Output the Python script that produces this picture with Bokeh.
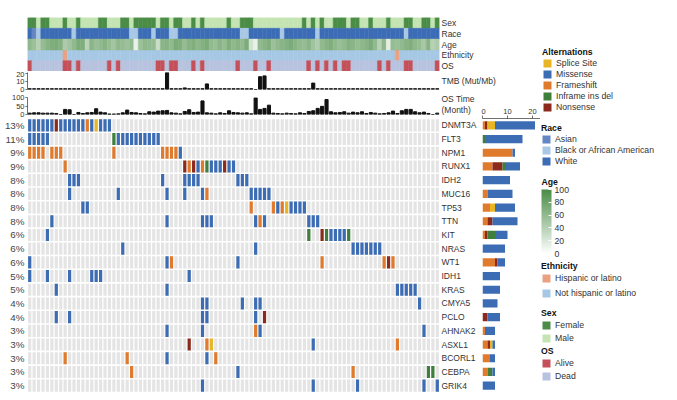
import numpy as np
from bokeh.plotting import figure
from bokeh.layouts import row, column
from bokeh.models import (ColumnDataSource, Range1d, FactorRange, FixedTicker, LinearAxis,
                          Legend, LegendItem, ColorBar, LinearColorMapper, Label)
from bokeh.transform import factor_cmap
from bokeh.embed import file_html
from bokeh.resources import INLINE

FONT = "Liberation Sans"
TXT = "#333333"

# ------------------------------------------------------------------ data
N_SAMPLES = 93
GENES = ["DNMT3A", "FLT3", "NPM1", "RUNX1", "IDH2", "MUC16", "TP53", "TTN", "KIT", "NRAS",
         "WT1", "IDH1", "KRAS", "CMYA5", "PCLO", "AHNAK2", "ASXL1", "BCORL1", "CEBPA", "GRIK4"]
PERCENT = ["13%", "11%", "9%", "9%", "8%", "8%", "8%", "8%", "6%", "6%",
           "6%", "5%", "5%", "4%", "4%", "3%", "3%", "3%", "3%", "3%"]
TRACKS = ["Sex", "Race", "Age", "Ethnicity", "OS"]

# sample annotations (sample index lists)
FEMALE = [0, 1, 3, 4, 8, 11, 16, 17, 21, 22, 24, 25, 26, 27, 28, 30, 31, 33, 34, 37, 39, 45,
          48, 49, 50, 62, 64, 66, 69, 70, 71, 73, 74, 77, 81, 85, 86, 89, 90, 92]
ASIAN = [1]
BLACK = [2, 10, 23, 24, 28, 32, 33, 48, 49, 57, 65, 85]
HISPANIC = [8, 83]
ALIVE = [0, 8, 9, 11, 18, 20, 29, 30, 32, 33, 37, 39, 47, 51, 54, 63, 65, 67, 69, 71, 72,
         79, 81, 85, 86, 92]
AGE = [62, 55, 40, 58, 66, 70, 72, 68, 45, 52,
       60, 72, 70, 38, 64, 56, 60, 66, 58, 50,
       62, 58, 54, 60, 12, 55, 62, 60, 58, 30,
       64, 66, 60, 72, 70, 58, 66, 70, 62, 68,
       72, 60, 56, 64, 58, 70, 62, 66, 60, 72,
       25, 12, 60, 66, 70, 55, 60, 64, 68, 72,
       66, 60, 58, 64, 52, 44, 60, 66, 70, 62,
       56, 60, 68, 64, 58, 62, 66, 72, 60, 40,
       62, 15, 58, 56, 60, 66, 70, 62, 58, 48, 66, 40, 45]
TMB = [1, 1, 1, 1, 1, 1, 1, 1, 1, 1,
       1, 1, 1, 1, 1, 1, 1, 1, 1, 1,
       1, 1, 1, 1, 1, 1, 1, 1, 1, 1,
       1, 22, 1, 1, 1, 2, 1, 1, 1, 1,
       7, 1, 1, 1, 1, 1, 1, 1, 1, 1,
       1, 0, 16, 17, 1, 1, 1, 1, 1, 1,
       1, 1, 1, 1, 8, 1, 1, 1, 1, 1,
       1, 1, 1, 1, 1, 1, 1, 1, 1, 1,
       1, 1, 1, 1, 1, 1, 1, 1, 1, 1, 1, 1, 1]
OS_TIME = [8, 10, 10, 8, 8, 8, 6, 0, 30, 28,
           0, 12, 6, 10, 12, 34, 14, 10, 3, 3,
           4, 10, 26, 12, 10, 6, 4, 16, 14, 20,
           22, 24, 10, 8, 4, 18, 28, 12, 14, 80,
           10, 8, 4, 10, 6, 22, 12, 10, 8, 10,
           4, 98, 30, 36, 55, 8, 6, 4, 8, 6,
           4, 10, 6, 18, 22, 36, 48, 88, 16, 10,
           12, 16, 8, 14, 10, 16, 6, 12, 8, 4,
           6, 10, 20, 6, 22, 30, 30, 16, 10, 14, 6, 0, 8]

# mutations per gene: type -> sample indices
# S = Splice Site, M = Missense, F = Frameshift, I = Inframe ins del, N = Nonsense
DNMT3A = {"M": [0, 1, 2, 3, 4, 5, 7, 8, 9, 10, 11, 12, 14, 16, 17, 18], "N": [6], "F": [13], "S": [15]}
FLT3 = {"M": [0, 1, 2, 3, 4, 20, 21, 22, 23, 24, 25, 26, 27, 28, 29], "I": [19]}
NPM1 = {"F": [0, 1, 2, 3, 5, 6, 7, 19, 30, 31, 32, 33], "M": [34]}
RUNX1 = {"F": [8, 36, 39], "N": [35, 37, 44], "M": [38, 41, 42, 43, 45, 46], "I": [40]}
IDH2 = {"M": [9, 10, 11, 30, 35, 36, 37, 38, 47, 48, 49]}
MUC16 = {"M": [9, 20, 31, 35, 39, 50, 51, 52, 53, 54], "F": [40]}
TP53 = {"M": [12, 13, 56, 59, 60, 61, 62], "F": [50, 55, 57], "S": [58]}
TTN = {"M": [5, 31, 39, 40, 41, 51, 53, 63, 64, 65], "F": [52]}
KIT = {"M": [4, 68, 69, 70, 71], "I": [63, 67, 72], "N": [66]}
NRAS = {"M": [21, 51, 73, 74, 75, 76, 77, 78, 79]}
WT1 = {"M": [0, 31, 47], "F": [32, 66, 80, 82], "N": [81]}
IDH1 = {"M": [0, 4, 9, 14, 15, 16, 36]}
KRAS = {"M": [6, 31, 83, 84, 85, 86, 87]}
CMYA5 = {"M": [39, 40, 48, 51, 52, 88]}
PCLO = {"M": [6, 9, 39, 40, 51], "N": [53]}
AHNAK2 = {"M": [31, 39, 52, 89], "F": [51]}
ASXL1 = {"N": [36], "F": [40, 83], "S": [41], "M": [64]}
BCORL1 = {"F": [8, 22, 42], "M": [31, 40]}
CEBPA = {"F": [23, 73], "M": [47], "I": [90, 91]}
GRIK4 = {"M": [39, 64, 74, 89, 92]}
GENE_MUTS = [DNMT3A, FLT3, NPM1, RUNX1, IDH2, MUC16, TP53, TTN, KIT, NRAS,
             WT1, IDH1, KRAS, CMYA5, PCLO, AHNAK2, ASXL1, BCORL1, CEBPA, GRIK4]

# right bar chart: counts per gene and type
BAR_FRAMESHIFT = [1, 0, 12, 4, 0, 2, 3, 2, 1, 0, 5, 0, 0, 0, 0, 1, 2, 3, 2, 0]
BAR_NONSENSE = [1, 0, 0, 4, 0, 0, 0, 2, 1, 0, 1, 0, 0, 0, 2, 0, 1, 0, 0, 0]
BAR_SPLICE = [3, 0, 0, 0, 0, 0, 2, 0, 0, 0, 0, 0, 0, 0, 0, 0, 1, 0, 0, 0]
BAR_INFRAME = [0, 1, 0, 1, 0, 0, 0, 0, 3, 0, 0, 0, 0, 0, 0, 0, 0, 0, 2, 0]
BAR_MISSENSE = [16, 15, 1, 6, 11, 10, 8, 10, 5, 9, 3, 7, 7, 6, 5, 4, 1, 2, 1, 5]

ALT_LABELS = ["Splice Site", "Missense", "Frameshift", "Inframe ins del", "Nonsense"]
ALT_KEYS = ["S", "M", "F", "I", "N"]
RACE_LABELS = ["Asian", "Black or African American", "White"]
ETH_LABELS = ["Hispanic or latino", "Not hispanic or latino"]
SEX_LABELS = ["Female", "Male"]
OS_LABELS = ["Alive", "Dead"]
AGE_TICKS = [0, 20, 40, 60, 80, 100]

# ------------------------------------------------------------------ styles
MUT_COLORS = {"S": "#e8b525", "M": "#3b6cb4", "F": "#e07b2d", "I": "#3f7e3b", "N": "#8b2a1c"}
RACE_COLORS = ["#6586c2", "#a8c8e6", "#3c6cb5"]
ETH_COLORS = ["#e9a182", "#a6c8e4"]
SEX_COLORS = ["#4b8d47", "#c4e4b3"]
OS_COLORS = ["#c4515a", "#b8c3df"]
BG_GRAY = "#e4e4e4"
_end = np.array([74, 140, 70])
AGE_PALETTE = ["#%02x%02x%02x" % tuple(int(round(255 + (e - 255) * t)) for e in _end)
               for t in np.linspace(0, 1, 256)]

samples = list(range(N_SAMPLES))
sex = ["Female" if i in FEMALE else "Male" for i in samples]
race = ["Asian" if i in ASIAN else ("Black or African American" if i in BLACK else "White")
        for i in samples]
eth = ["Hispanic or latino" if i in HISPANIC else "Not hispanic or latino" for i in samples]
os_status = ["Alive" if i in ALIVE else "Dead" for i in samples]

x_range = Range1d(-0.5, N_SAMPLES - 0.5)

LB = 27      # left border (px) shared by the column-aligned panels
TOP_W = 540  # width of full-width upper panels
MID_W = 481  # width of os/grid panels


def base_fig(**kw):
    p = figure(output_backend="svg", toolbar_location=None, **kw)
    p.outline_line_color = None
    p.xgrid.visible = False
    p.ygrid.visible = False
    p.background_fill_color = "white"
    p.border_fill_color = "white"
    return p


def style_label_axis(ax, size="8.5px", standoff=2, color=TXT):
    ax.axis_line_color = None
    ax.major_tick_line_color = None
    ax.minor_tick_line_color = None
    ax.major_tick_out = 0
    ax.major_tick_in = 0
    ax.minor_tick_out = 0
    ax.major_label_standoff = standoff
    ax.major_label_text_font = FONT
    ax.major_label_text_font_size = size
    ax.major_label_text_color = color


def style_num_axis(ax):
    ax.axis_line_color = "#333333"
    ax.axis_line_width = 0.7
    ax.major_tick_line_color = "#333333"
    ax.major_tick_line_width = 0.7
    ax.major_tick_out = 2
    ax.major_tick_in = 0
    ax.minor_tick_line_color = None
    ax.major_label_standoff = 1
    ax.major_label_text_font = FONT
    ax.major_label_text_font_size = "7.5px"
    ax.major_label_text_color = TXT


# ------------------------------------------------------------------ annotation tracks
tsrc = ColumnDataSource(dict(x=samples, sex=sex, race=race, age=AGE, eth=eth, os=os_status,
                             ySex=["Sex"] * N_SAMPLES, yRace=["Race"] * N_SAMPLES,
                             yAge=["Age"] * N_SAMPLES, yEth=["Ethnicity"] * N_SAMPLES,
                             yOS=["OS"] * N_SAMPLES))
tracks = base_fig(width=TOP_W, height=71, x_range=x_range,
                  y_range=FactorRange(factors=list(reversed(TRACKS))),
                  x_axis_location=None, y_axis_location="right",
                  min_border_left=LB, min_border_right=TOP_W - LB - 412,
                  min_border_top=17, min_border_bottom=0)
for ycol, fcol, labels, pal in [("ySex", "sex", SEX_LABELS, SEX_COLORS),
                                ("yRace", "race", RACE_LABELS, RACE_COLORS),
                                ("yEth", "eth", ETH_LABELS, ETH_COLORS),
                                ("yOS", "os", OS_LABELS, OS_COLORS)]:
    cm = factor_cmap(fcol, palette=pal, factors=labels)
    tracks.rect(x="x", y=ycol, width=1, height=1, source=tsrc, fill_color=cm,
                line_color=cm, line_width=0.5)
age_mapper = LinearColorMapper(palette=AGE_PALETTE, low=0, high=100)
tracks.rect(x="x", y="yAge", width=1, height=1, source=tsrc,
            fill_color={"field": "age", "transform": age_mapper},
            line_color={"field": "age", "transform": age_mapper}, line_width=0.5)
style_label_axis(tracks.yaxis[0])

# ------------------------------------------------------------------ TMB
tmb = base_fig(width=TOP_W, height=22, x_range=x_range, y_range=Range1d(0, 21.25),
               x_axis_location=None,
               min_border_left=LB, min_border_right=TOP_W - LB - 412,
               min_border_top=1, min_border_bottom=4)
tmb.vbar(x=samples, top=TMB, width=0.7, color="#111111")
tmb.yaxis.ticker = FixedTicker(ticks=[0, 10, 20])
style_num_axis(tmb.yaxis[0])
tmb_lab = LinearAxis(ticker=FixedTicker(ticks=[11]), major_label_overrides={11: "TMB (Mut/Mb)"})
style_label_axis(tmb_lab)
tmb.add_layout(tmb_lab, "right")

# ------------------------------------------------------------------ OS time
ost = base_fig(width=MID_W, height=25, x_range=x_range, y_range=Range1d(0, 100),
               x_axis_location=None,
               min_border_left=LB, min_border_right=MID_W - LB - 412,
               min_border_top=4, min_border_bottom=4)
ost.vbar(x=samples, top=OS_TIME, width=0.7, color="#111111")
ost.yaxis.ticker = FixedTicker(ticks=[0, 50, 100])
style_num_axis(ost.yaxis[0])
ost_lab = LinearAxis(ticker=FixedTicker(ticks=[24, 91]),
                     major_label_overrides={91: "OS Time", 24: "(Month)"})
style_label_axis(ost_lab)
ost.add_layout(ost_lab, "right")

# ------------------------------------------------------------------ oncoprint grid
n_genes = len(GENES)
grid = base_fig(width=MID_W, height=274, x_range=x_range, y_range=Range1d(n_genes - 0.5, -0.5),
                x_axis_location=None,
                min_border_left=LB, min_border_right=MID_W - LB - 412,
                min_border_top=0, min_border_bottom=0)
bg = ColumnDataSource(dict(x=[c for r in range(n_genes) for c in samples],
                           y=[r for r in range(n_genes) for c in samples]))
grid.rect(x="x", y="y", width=0.72, height=0.88, source=bg, fill_color=BG_GRAY, line_color=None)
mx, my, mc = [], [], []
for r, muts in enumerate(GENE_MUTS):
    for t, cs in muts.items():
        for c in cs:
            mx.append(c)
            my.append(r)
            mc.append(MUT_COLORS[t])
grid.rect(x=mx, y=my, width=0.72, height=0.88, fill_color=mc, line_color=None)
grid.yaxis.ticker = FixedTicker(ticks=list(range(n_genes)))
grid.yaxis.major_label_overrides = {i: PERCENT[i] for i in range(n_genes)}
style_label_axis(grid.yaxis[0], size="9.8px", standoff=3, color="#444444")
gene_ax = LinearAxis(ticker=FixedTicker(ticks=list(range(n_genes))),
                     major_label_overrides={i: GENES[i] for i in range(n_genes)})
style_label_axis(gene_ax)
grid.add_layout(gene_ax, "right")

# ------------------------------------------------------------------ right bar chart
bars = base_fig(width=TOP_W - MID_W, height=299, x_range=Range1d(0, 23.2),
                y_range=Range1d(n_genes - 0.5, -0.5),
                x_axis_location="above", y_axis_location=None,
                min_border_left=1, min_border_right=0, min_border_top=25, min_border_bottom=0)
bsrc = ColumnDataSource(dict(y=list(range(n_genes)), F=BAR_FRAMESHIFT, N=BAR_NONSENSE,
                             S=BAR_SPLICE, I=BAR_INFRAME, M=BAR_MISSENSE))
stack_keys = ["F", "N", "S", "I", "M"]
bars.hbar_stack(stack_keys, y="y", height=0.6, source=bsrc,
                fill_color=[MUT_COLORS[k] for k in stack_keys], line_color=None)
bars.xaxis.ticker = FixedTicker(ticks=[0, 10, 20])
style_num_axis(bars.xaxis[0])
bars.xaxis.major_tick_out = 3
bars.xaxis.major_label_standoff = 2

# ------------------------------------------------------------------ legends
LEG_H = 392
leg = base_fig(width=677 - TOP_W, height=LEG_H, x_range=Range1d(0, 1), y_range=Range1d(0, 1),
               x_axis_location=None, y_axis_location=None, min_border=0)


def add_legend(title, labels, colors, loc, spacing, title_standoff):
    items = []
    for lab, colr in zip(labels, colors):
        # proxy glyph placed outside the visible range, used only for the legend swatch
        r = leg.rect(x=[5], y=[5], width=1, height=1, fill_color=colr, line_color=None)
        items.append(LegendItem(label=lab, renderers=[r]))
    lg = Legend(items=items, title=title, location=loc, orientation="vertical",
                glyph_width=10, glyph_height=10, label_height=10, label_width=10,
                label_standoff=4, spacing=spacing, padding=0, margin=0,
                border_line_color=None, background_fill_alpha=0,
                title_standoff=title_standoff,
                title_text_font=FONT, title_text_font_size="8.7px", title_text_font_style="bold",
                title_text_color="#111111",
                label_text_font=FONT, label_text_font_size="8.7px", label_text_color=TXT)
    leg.add_layout(lg, "center")


add_legend("Alternations", ALT_LABELS, [MUT_COLORS[k] for k in ALT_KEYS], (2, 280), 1, 1)
add_legend("Race", RACE_LABELS, RACE_COLORS, (1, 226), 1, 1)
add_legend("Ethnicity", ETH_LABELS, ETH_COLORS, (1, 94), 5, 2)
add_legend("Sex", SEX_LABELS, SEX_COLORS, (1, 49), 3, 2)
add_legend("OS", OS_LABELS, OS_COLORS, (1, 11), 3, 2)

cbar = ColorBar(color_mapper=age_mapper, orientation="vertical", width=10, height=64,
                location=(1, 139),
                ticker=FixedTicker(ticks=AGE_TICKS),
                major_label_text_font=FONT, major_label_text_font_size="8.7px",
                major_label_text_color=TXT, label_standoff=3,
                major_tick_line_color="white", major_tick_in=3, major_tick_out=0,
                minor_tick_line_color=None, bar_line_color=None,
                padding=0, margin=0, border_line_color=None, background_fill_alpha=0)
leg.add_layout(cbar, "center")
leg.add_layout(Label(x=1, y=LEG_H - 181, x_units="screen", y_units="screen", text="Age",
                     text_font=FONT, text_font_size="8.7px", text_font_style="bold",
                     text_color="#111111", text_baseline="middle"))

# ------------------------------------------------------------------ layout
left = column(tracks, tmb, row(column(ost, grid), bars))
page = row(left, leg)

open("out.html", "w").write(file_html(page, INLINE))
